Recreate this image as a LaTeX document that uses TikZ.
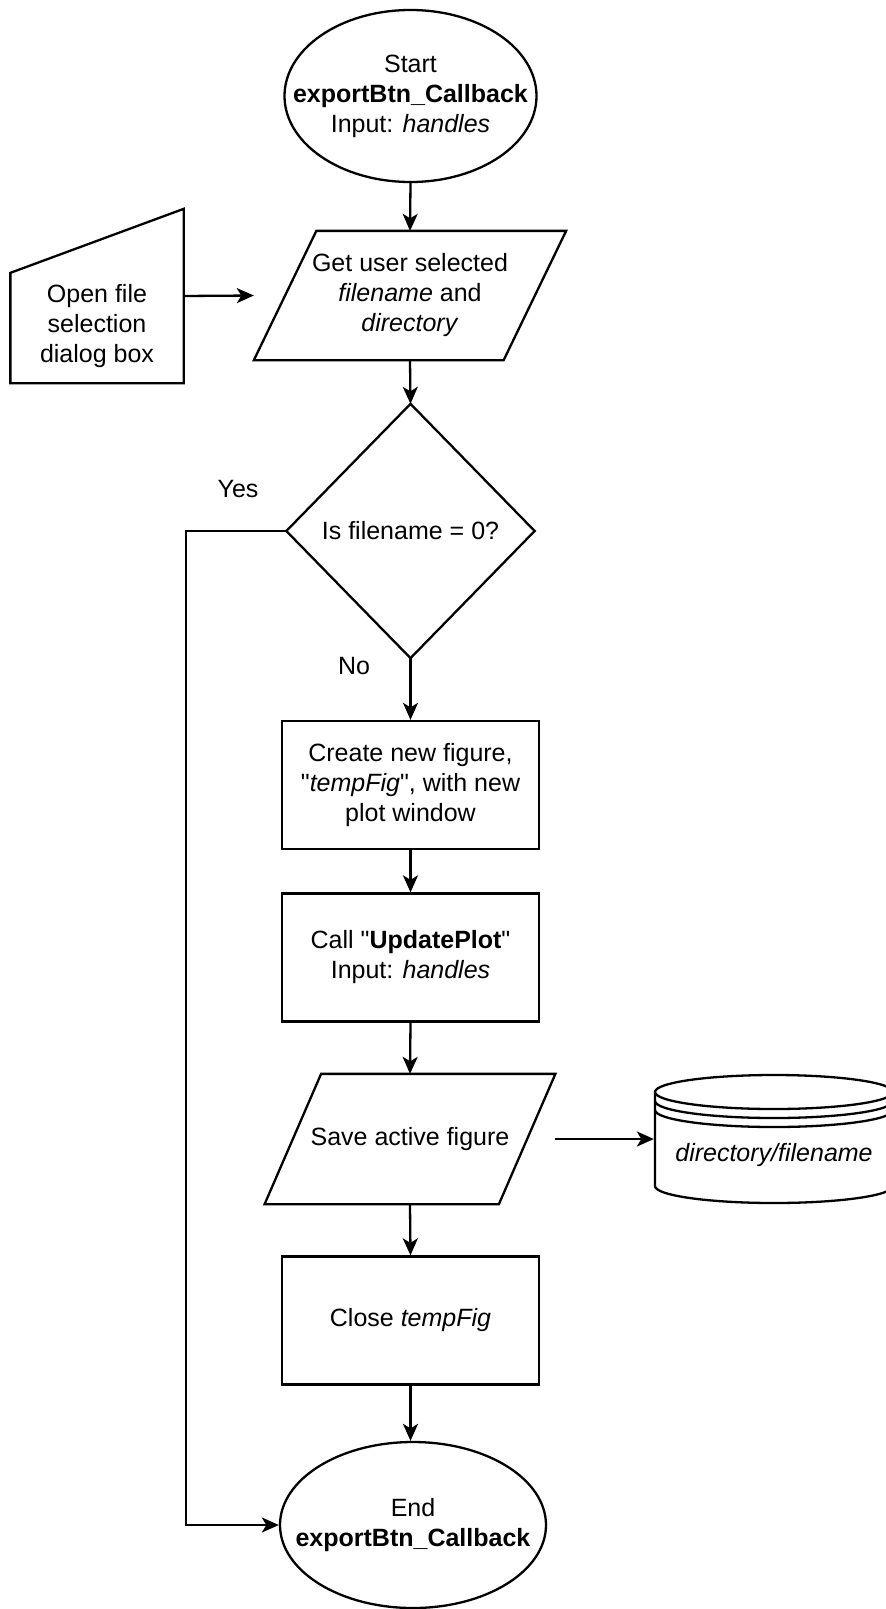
\documentclass[tikz,border=0pt]{standalone}
\usepackage{fontspec}
\setmainfont{Liberation Sans}
% same face without TeX ligature mapping, for straight quotes
\newfontfamily\plainquote{Liberation Sans}
\usetikzlibrary{arrows.meta,calc}

% straight double quote
\newcommand{\sq}{{\plainquote\char34}}

\begin{document}
\begin{tikzpicture}[x=1pt,y=-1pt,line width=2.3pt,
  flow/.style={-{Stealth[length=17pt,width=15pt,inset=4.5pt]}},
  every node/.style={font=\fontsize{25}{30}\selectfont,align=center,inner sep=0pt},
  process/.style={draw,rectangle,minimum width=257pt,minimum height=128pt},
  frame/.style={rectangle,draw=none},
  plain/.style={draw=none}]

% page
\fill[white] (0,0) rectangle (886,1609);
\useasboundingbox (0,0) rectangle (886,1609);

% start terminal
\node[frame,minimum width=252pt,minimum height=172pt] (start) at (410.5,96)
  {Start\\\textbf{exportBtn\_Callback}\\Input: \textit{handles}};
\draw (start.center) ellipse[x radius=126pt,y radius=86pt];

% input: file selection
\node[frame,minimum width=310pt,minimum height=127pt] (get) at (410,295.5)
  {Get user selected\\\textit{filename} and\\\textit{directory}};
\draw (get.south west) -- ($(get.north west)+(62.5,0)$) -- (get.north east)
  -- ($(get.south east)+(-62.5,0)$) -- cycle;

% manual input
\node[frame,minimum width=171pt,minimum height=172pt] (open) at (97,296) {};
\draw (open.south west) -- (open.south east) -- (open.north east)
  -- ($(open.north west)+(0,64)$) -- cycle;
\node[plain] (openlbl) at (97,326.5) {Open file\\selection\\dialog box};

% decision
\node[frame,minimum width=246pt,minimum height=252pt] (dec) at (410.5,531)
  {Is filename = 0?};
\draw (dec.north) -- (dec.east) -- (dec.south) -- (dec.west) -- cycle;

% processes
\node[process] (create) at (410.5,785)
  {Create new figure,\\\sq\textit{tempFig}\sq, with new\\plot window};
\node[process] (update) at (410.5,957.5)
  {Call \sq\textbf{UpdatePlot}\sq\\Input: \textit{handles}};

\node[frame,minimum width=288.5pt,minimum height=128pt] (save) at (410,1139)
  {Save active figure};
\draw (save.south west) -- ($(save.north west)+(56.5,0)$) -- (save.north east)
  -- ($(save.south east)+(-56.5,0)$) -- cycle;

\node[process] (close) at (410.5,1320.5) {Close \textit{tempFig}};

% end terminal
\node[frame,minimum width=266pt,minimum height=166pt] (endn) at (413,1525)
  {End\\\textbf{exportBtn\_Callback}};
\draw (endn.center) ellipse[x radius=133pt,y radius=83pt];

% data store
\node[frame,minimum width=238pt,minimum height=128pt] (store) at (774,1139) {};
\draw (655,1092) -- (655,1186) arc[start angle=180,end angle=360,x radius=119pt,y radius=17pt]
      -- (893,1092);
\draw (774,1092) ellipse[x radius=119pt,y radius=17pt];
\draw (655,1101) arc[start angle=180,end angle=360,x radius=119pt,y radius=17pt];
\draw (655,1110) arc[start angle=180,end angle=360,x radius=119pt,y radius=17pt];
\node[plain] (storelbl) at (774,1155.5) {\textit{directory/filename}};

% branch labels
\node[plain] (yes) at (238,489) {Yes};
\node[plain] (no) at (354,666) {No};

% connectors
\coordinate (yesbend) at (186,531);
\draw[flow] (start.south) -- (get.north);
\draw[flow] (open.east) -- (get.west);
\draw[flow] (get.south) -- (dec.north);
\draw[flow] (dec.south) -- (create.north);
\draw[flow] (create.south) -- (update.north);
\draw[flow] (update.south) -- (save.north);
\draw[flow] (save.east) -- (store.west);
\draw[flow] (save.south) -- (close.north);
\draw[flow] (close.south) -- (close.south |- endn.north);
\draw[flow] (dec.west) -- (yesbend) |- (endn.west);
\end{tikzpicture}
\end{document}
